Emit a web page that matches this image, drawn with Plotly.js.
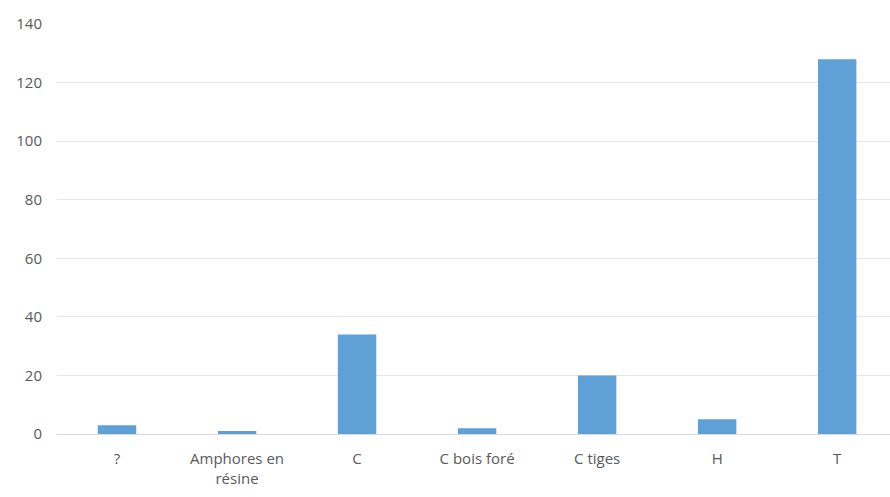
<!DOCTYPE html>
<html>
<head>
<meta charset="utf-8">
<script src="https://cdn.plot.ly/plotly-3.0.1.min.js"></script>
<style>
  html, body { margin: 0; padding: 0; background: #ffffff; }
  #chart { width: 890px; height: 497px; }
</style>
</head>
<body>
<div id="chart"></div>
<script>
// Category labels and counts per category
const categories = ["?", "Amphores en<br>résine", "C", "C bois foré", "C tiges", "H", "T"];
const counts = [3, 1, 34, 2, 20, 5, 128];
const yTicks = [0, 20, 40, 60, 80, 100, 120, 140];

const trace = {
  type: "bar",
  x: categories,
  y: counts,
  marker: { color: "#5FA0D7", line: { width: 0 } },
  hoverinfo: "x+y"
};

const layout = {
  width: 890,
  height: 497,
  margin: { l: 57, r: 0, t: 24, b: 63 },
  paper_bgcolor: "#ffffff",
  plot_bgcolor: "#ffffff",
  bargap: 0.68,
  showlegend: false,
  font: { family: "Open Sans, Liberation Sans, sans-serif", size: 15, color: "#595959" },
  xaxis: {
    type: "category",
    range: [-0.5, 6.44],
    showgrid: false,
    showline: false,
    zeroline: false,
    ticks: "",
    tickfont: { size: 15, color: "#595959" },
    ticklabelstandoff: 14
  },
  yaxis: {
    range: [0, 140],
    tickvals: yTicks,
    ticktext: yTicks.map(String),
    showgrid: true,
    gridcolor: "#E6E6E6",
    gridwidth: 1,
    zeroline: true,
    zerolinecolor: "#D9D9D9",
    zerolinewidth: 1,
    showline: false,
    ticks: "",
    tickfont: { size: 15, color: "#595959" },
    ticklabelstandoff: 14
  }
};

Plotly.newPlot("chart", [trace], layout, { displayModeBar: false, staticPlot: true });
</script>
</body>
</html>
